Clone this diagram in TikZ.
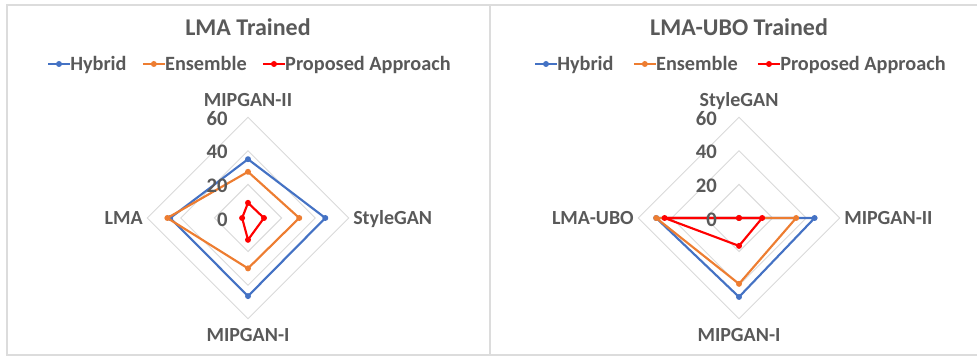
\documentclass[tikz,border=0pt]{standalone}
\usepackage{fontspec}
\setmainfont{Carlito}
\usepackage{tikz}
\usetikzlibrary{positioning}

\definecolor{hybridc}{HTML}{4472C4}
\definecolor{ensemblec}{HTML}{ED7D31}
\definecolor{proposedc}{HTML}{FF0000}
\definecolor{labelc}{HTML}{595959}
\definecolor{gridc}{HTML}{D9D9D9}
\definecolor{framec}{HTML}{DCDCDC}

\tikzset{
    series/.style={
      line width=1.6pt,
           line join=round,
           },
}
\tikzset{
    dot/.style={
      circle,
           inner sep=0pt,
           minimum size=4.5pt,
           },
}
\tikzset{
    ring/.style={
      draw=gridc, line width=0.7pt,
           },
}
\tikzset{
    charttitle/.style={
      font=\bfseries\fontsize{18}{21}\selectfont,
           text=labelc,
           inner sep=0pt,
           text height=11.6pt, text depth=0pt,
           },
}
\tikzset{
    legtext/.style={
      font=\bfseries\fontsize{15.2}{18}\selectfont,
           text=labelc,
           inner sep=0pt,
           text height=9.8pt, text depth=0pt,
           },
}
\tikzset{
    axislabel/.style={
      font=\bfseries\fontsize{15}{18}\selectfont,
           text=labelc,
           inner sep=0pt,
           text height=9.7pt, text depth=0pt,
           },
}
\tikzset{
    ticklabel/.style={
      font=\bfseries\fontsize{15.5}{18}\selectfont,
           text=labelc,
           inner sep=0pt,
           text height=9.8pt, text depth=0pt,
           anchor=east,
           },
}

\begin{document}
\begin{tikzpicture}[x=0.75pt,y=0.75pt]

\useasboundingbox (0,0) rectangle (977,359);

% panel frames
\draw[draw=framec, line width=1.5pt] (7,4) rectangle (490,354);
\draw[draw=framec, line width=1.5pt] (490,4) rectangle (990,354);

% ---------- LMA trained ----------
\node[charttitle](lti) at (248,331){LMA Trained};

\coordinate (lk1) at (48,295);
\node[legtext,right = 16.5pt of lk1](lt1){Hybrid};
\draw[series,draw=hybridc] (lk1) -- (lt1.west) node[dot,fill=hybridc,midway]{};
\coordinate[right = 12pt of lt1.east] (lk2);
\node[legtext,right = 16.5pt of lk2](lt2){Ensemble};
\draw[series,draw=ensemblec] (lk2) -- (lt2.west) node[dot,fill=ensemblec,midway]{};
\coordinate[right = 12pt of lt2.east] (lk3);
\node[legtext,right = 16.5pt of lk3](lt3){Proposed Approach};
\draw[series,draw=proposedc] (lk3) -- (lt3.west) node[dot,fill=proposedc,midway]{};

\begin{scope}[shift={(248,141)},scale=1.68]
\draw[ring] (90:20) -- (0:20) -- (270:20) -- (180:20) -- cycle;
\draw[ring] (90:40) -- (0:40) -- (270:40) -- (180:40) -- cycle;
\draw[ring] (90:60) -- (0:60) -- (270:60) -- (180:60) -- cycle;

\node[dot,fill=hybridc](lh1) at (90:35){};
\node[dot,fill=hybridc](lh2) at (0:46){};
\node[dot,fill=hybridc](lh3) at (270:46.5){};
\node[dot,fill=hybridc](lh4) at (180:46.3){};
\draw[series,draw=hybridc] (lh1.center) -- (lh2.center) -- (lh3.center) -- (lh4.center) -- cycle;

\node[dot,fill=ensemblec](le1) at (90:27.5){};
\node[dot,fill=ensemblec](le2) at (0:30.5){};
\node[dot,fill=ensemblec](le3) at (270:30){};
\node[dot,fill=ensemblec](le4) at (180:48){};
\draw[series,draw=ensemblec] (le1.center) -- (le2.center) -- (le3.center) -- (le4.center) -- cycle;

\node[dot,fill=proposedc](lp1) at (90:9){};
\node[dot,fill=proposedc](lp2) at (0:9.5){};
\node[dot,fill=proposedc](lp3) at (270:13){};
\node[dot,fill=proposedc](lp4) at (180:3.5){};
\draw[series,draw=proposedc] (lp1.center) -- (lp2.center) -- (lp3.center) -- (lp4.center) -- cycle;

\node[ticklabel](l0) at (-12,-0.9){0};
\node[ticklabel](l20) at (-12,19.1){20};
\node[ticklabel](l40) at (-12,39.1){40};
\node[ticklabel](l60) at (-12,59.1){60};

\node[axislabel](lax1) at (0,70.4){MIPGAN-II};
\node[axislabel,anchor=west](lax2) at (62.5,0){StyleGAN};
\node[axislabel](lax3) at (0,-69.6){MIPGAN-I};
\node[axislabel,anchor=east](lax4) at (-62.5,0){LMA};
\end{scope}

% ---------- LMA-UBO trained ----------
\node[charttitle](rti) at (739,331){LMA-UBO Trained};

\coordinate (rk1) at (535,295);
\node[legtext,right = 16.5pt of rk1](rt1){Hybrid};
\draw[series,draw=hybridc] (rk1) -- (rt1.west) node[dot,fill=hybridc,midway]{};
\coordinate[right = 15pt of rt1.east] (rk2);
\node[legtext,right = 16.5pt of rk2](rt2){Ensemble};
\draw[series,draw=ensemblec] (rk2) -- (rt2.west) node[dot,fill=ensemblec,midway]{};
\coordinate[right = 15pt of rt2.east] (rk3);
\node[legtext,right = 16.5pt of rk3](rt3){Proposed Approach};
\draw[series,draw=proposedc] (rk3) -- (rt3.west) node[dot,fill=proposedc,midway]{};

\begin{scope}[shift={(739,141)},scale=1.68]
\draw[ring] (90:20) -- (0:20) -- (270:20) -- (180:20) -- cycle;
\draw[ring] (90:40) -- (0:40) -- (270:40) -- (180:40) -- cycle;
\draw[ring] (90:60) -- (0:60) -- (270:60) -- (180:60) -- cycle;

\node[dot,fill=hybridc](rh1) at (90:0){};
\node[dot,fill=hybridc](rh2) at (0:45){};
\node[dot,fill=hybridc](rh3) at (270:47){};
\node[dot,fill=hybridc](rh4) at (180:49.3){};
\draw[series,draw=hybridc] (rh1.center) -- (rh2.center) -- (rh3.center) -- (rh4.center) -- cycle;

\node[dot,fill=ensemblec](re1) at (90:0){};
\node[dot,fill=ensemblec](re2) at (0:34){};
\node[dot,fill=ensemblec](re3) at (270:39.2){};
\node[dot,fill=ensemblec](re4) at (180:49.3){};
\draw[series,draw=ensemblec] (re1.center) -- (re2.center) -- (re3.center) -- (re4.center) -- cycle;

\node[dot,fill=proposedc](rp1) at (90:0){};
\node[dot,fill=proposedc](rp2) at (0:13.8){};
\node[dot,fill=proposedc](rp3) at (270:16.6){};
\node[dot,fill=proposedc](rp4) at (180:44.3){};
\draw[series,draw=proposedc] (rp1.center) -- (rp2.center) -- (rp3.center) -- (rp4.center) -- cycle;

\node[ticklabel](r0) at (-13,-0.9){0};
\node[ticklabel](r20) at (-13,19.1){20};
\node[ticklabel](r40) at (-13,39.1){40};
\node[ticklabel](r60) at (-13,59.1){60};

\node[axislabel](rax1) at (0,70.4){StyleGAN};
\node[axislabel,anchor=west](rax2) at (62.5,0){MIPGAN-II};
\node[axislabel](rax3) at (0,-69.6){MIPGAN-I};
\node[axislabel,anchor=east](rax4) at (-62.5,0){LMA-UBO};
\end{scope}

\end{tikzpicture}
\end{document}
